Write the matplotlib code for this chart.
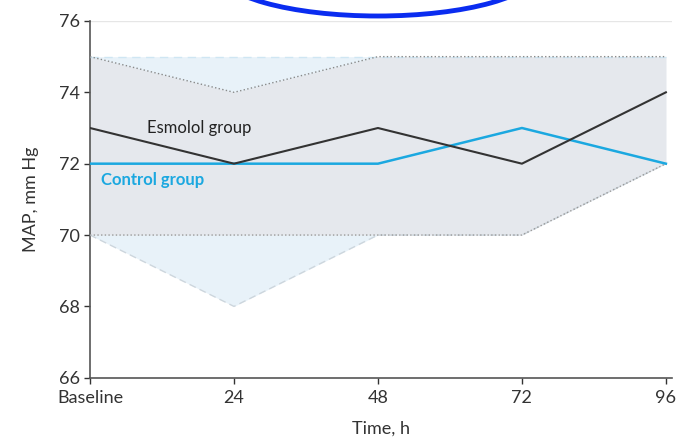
import numpy as np
import matplotlib.pyplot as plt
from matplotlib.patches import Ellipse

plt.rcParams['font.family'] = ['Lato', 'DejaVu Sans']

hours = [0, 24, 48, 72, 96]
tick_labels = ['Baseline', '24', '48', '72', '96']

esmolol_median = [73, 72, 73, 72, 74]
esmolol_q1 = [70, 70, 70, 70, 72]
esmolol_q3 = [75, 74, 75, 75, 75]

control_median = [72, 72, 72, 73, 72]
control_q1 = [70, 68, 70, 70, 72]
control_q3 = [75, 75, 75, 75, 75]

fig = plt.figure(figsize=(6.87, 4.46), dpi=100)
ax = fig.add_axes([0.131, 0.153, 0.847, 0.8])

# interquartile bands
ax.fill_between(hours, control_q1, control_q3, color='#e8f2f9', lw=0, zorder=1)
ax.fill_between(hours, esmolol_q1, esmolol_q3, color='#e4e5e9', alpha=0.7, lw=0, zorder=2)

ax.plot(hours, control_q3, color='#cfe6f3', lw=1.0, ls=(0, (6, 4)), zorder=3)
ax.plot(hours, control_q1, color='#cdd6dd', lw=1.0, ls=(0, (5, 3)), zorder=3)
ax.plot(hours, esmolol_q3, color='#8a8a8a', lw=1.0, ls=':', zorder=4)
ax.plot(hours, esmolol_q1, color='#9a9a9a', lw=1.0, ls=':', zorder=4)

ax.plot(hours, esmolol_median, color='#333333', lw=1.5, zorder=6)
ax.plot(hours, control_median, color='#1ba8e0', lw=1.8, zorder=5)

ax.text(9.5, 73.0, 'Esmolol group', color='#222222', fontsize=12, va='center', zorder=7)
ax.text(1.8, 71.55, 'Control group', color='#1ba8e0', fontsize=12, va='center',
        fontweight='bold', zorder=7)

ax.axhline(76, color='#e6e6e6', lw=1.0, zorder=0)

ax.set_xlim(0, 97)
ax.set_ylim(66, 76)
ax.set_xticks(hours)
ax.set_xticklabels(tick_labels)
ax.set_yticks(np.arange(66, 77, 2))
ax.tick_params(axis='both', labelsize=13, colors='#333333', length=4, width=1)
ax.tick_params(axis='x', pad=5)
ax.set_xlabel('Time, h', fontsize=13, color='#333333', labelpad=10)
ax.set_ylabel('MAP, mm Hg', fontsize=13, color='#333333', labelpad=14)
for s in ['top', 'right']:
    ax.spines[s].set_visible(False)
for s in ['left', 'bottom']:
    ax.spines[s].set_color('#555555')
    ax.spines[s].set_linewidth(1.2)
ax.set_facecolor('none')

# blue circled annotation at top
circ = Ellipse((378 / 687, 1 + 29 / 446), 320 / 687, 90 / 446, transform=fig.transFigure,
               fill=False, edgecolor='#0a2cf0', lw=3.5, clip_on=False)
fig.patches.append(circ)

fig.savefig('out.png', dpi=100)
